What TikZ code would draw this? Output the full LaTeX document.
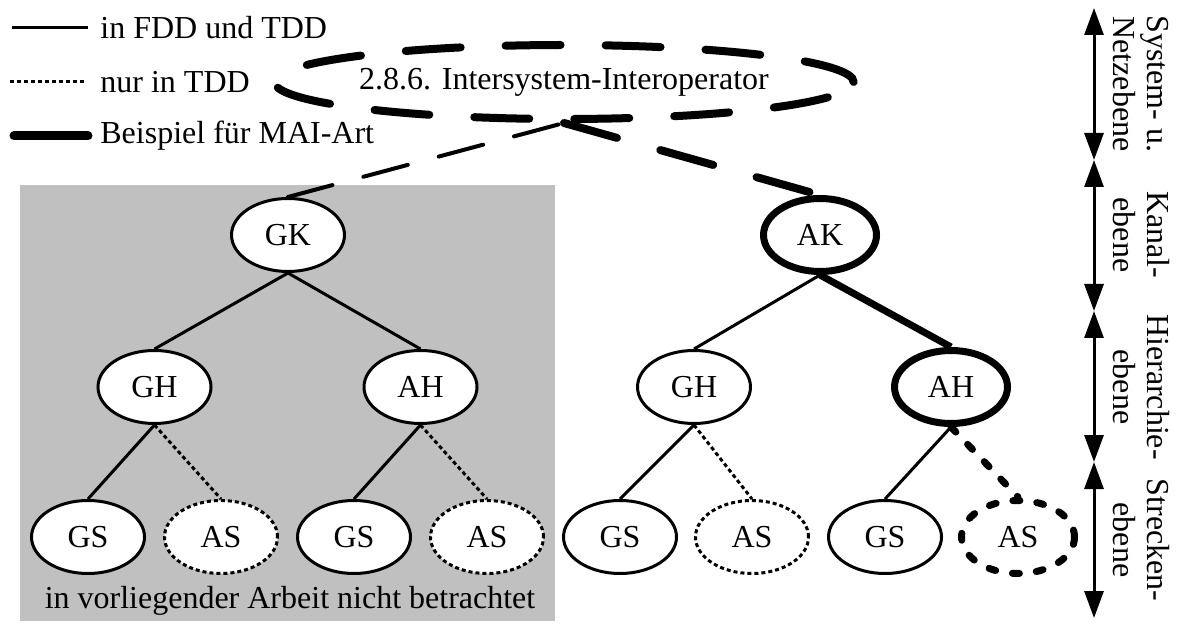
\documentclass[tikz,border=0pt]{standalone}
\usepackage{fontspec}
\setmainfont{Liberation Serif}
\usetikzlibrary{shapes.geometric,arrows.meta}
\definecolor{areagray}{HTML}{C0C0C0}
\begin{document}
\begin{tikzpicture}[x=0.5pt,y=-0.5pt,
  every node/.style={font=\fontsize{16}{17}\selectfont},
  unit/.style={ellipse, draw, fill=white, line width=1.5pt,
    minimum width=56.5pt, minimum height=36.5pt, inner sep=0pt},
  maiunit/.style={unit, line width=3.5pt},
  tddunit/.style={unit, dash pattern=on 2pt off 1.5pt},
  maitddunit/.style={unit, line width=3.5pt, line cap=round, dash pattern=on 3.5pt off 8.5pt},
  link/.style={line width=1.5pt},
  tddlink/.style={line width=1.5pt, dash pattern=on 2pt off 1.5pt},
  mailink/.style={line width=3.5pt},
  maitddlink/.style={line width=3.5pt, line cap=round, dash pattern=on 3.5pt off 8.5pt},
  netlink/.style={line width=2pt, line cap=round, dash pattern=on 23pt off 16pt},
  mainetlink/.style={line width=4pt, line cap=round, dash pattern=on 27.5pt off 22.5pt},
  netunit/.style={ellipse, draw, line width=4pt, line cap=round, dash pattern=on 27.5pt off 22.5pt,
    minimum width=262pt, minimum height=37pt, inner sep=0pt},
  levelarrow/.style={line width=1.5pt,
    {Triangle[length=13.5pt,width=9.5pt]}-{Triangle[length=13.5pt,width=9.5pt]}},
  levellabel/.style={rotate=-90, align=center},
  legendtext/.style={anchor=west, inner sep=0pt},
]
\useasboundingbox (0,0) rectangle (1182,625);

% region not treated further
\fill[areagray] (20,185) rectangle (555,621);
\node (note) at (290,601) {in vorliegender Arbeit nicht betrachtet};

% legend
\coordinate (la1) at (12,28);  \coordinate (lb1) at (88,28);
\coordinate (la2) at (10,82);  \coordinate (lb2) at (86,82);
\coordinate (la3) at (14,136); \coordinate (lb3) at (88,136);
\draw[link] (la1) -- (lb1);
\draw[tddlink] (la2) -- (lb2);
\draw[line width=4.5pt, line cap=round] (la3) -- (lb3);
\node[legendtext] (t1) at (100,28) {in FDD und TDD};
\node[legendtext] (t2) at (100,82) {nur in TDD};
\node[legendtext] (t3) at (100,136) {Beispiel für MAI-Art};

% inter-system level
\node[netunit] (iio) at (564,82) {2.8.6. Intersystem-Interoperator};

% channel level
\node[unit] (gk) at (288,235) {GK};
\node[maiunit] (ak) at (820,235) {AK};

% hierarchy level
\node[unit] (gh1) at (154.5,387) {GH};
\node[unit] (ah1) at (420.5,387) {AH};
\node[unit] (gh2) at (694,387) {GH};
\node[maiunit] (ah2) at (951,387) {AH};

% section level
\node[unit] (gs1) at (88,537) {GS};
\node[tddunit] (as1) at (221,537) {AS};
\node[unit] (gs2) at (354,537) {GS};
\node[tddunit] (as2) at (487,537) {AS};
\node[unit] (gs3) at (620,537) {GS};
\node[tddunit] (as3) at (752,537) {AS};
\node[unit] (gs4) at (885,537) {GS};
\node[maitddunit] (as4) at (1018,537) {AS};

% connections
\draw[netlink] (gk.north) -- (iio.south);
\draw[mainetlink] (iio.south) -- (ak.north);
\draw[link] (gk.south) -- (gh1.north);
\draw[link] (gk.south) -- (ah1.north);
\draw[link] (ak.south) -- (gh2.north);
\draw[mailink] (ak.south) -- (ah2.north);
\draw[link] (gh1.south) -- (gs1.north);
\draw[tddlink] (gh1.south) -- (as1.north);
\draw[link] (ah1.south) -- (gs2.north);
\draw[tddlink] (ah1.south) -- (as2.north);
\draw[link] (gh2.south) -- (gs3.north);
\draw[tddlink] (gh2.south) -- (as3.north);
\draw[link] (ah2.south) -- (gs4.north);
\draw[maitddlink] (ah2.south) -- (as4.north);

% level scale
\coordinate (b0) at (1094,8);
\coordinate (b1) at (1094,160);
\coordinate (b2) at (1094,311);
\coordinate (b3) at (1094,462);
\coordinate (b4) at (1094,618);
\draw[levelarrow] (b0) -- (b1);
\draw[levelarrow] (b1) -- (b2);
\draw[levelarrow] (b2) -- (b3);
\draw[levelarrow] (b3) -- (b4);
\node[levellabel] (lv1) at (1141,84) {System- u.\\Netzebene};
\node[levellabel] (lv2) at (1141,235) {Kanal-\\ebene};
\node[levellabel] (lv3) at (1141,387) {Hierarchie-\\ebene};
\node[levellabel] (lv4) at (1141,540) {Strecken-\\ebene};
\end{tikzpicture}
\end{document}
